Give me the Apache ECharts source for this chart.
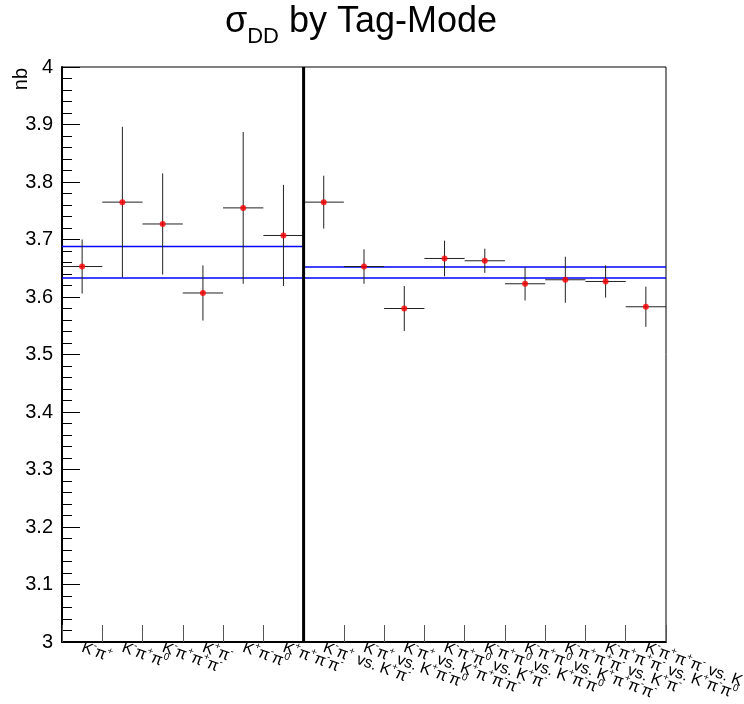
<!DOCTYPE html>
<html><head><meta charset="utf-8">
<script src="https://cdn.jsdelivr.net/npm/echarts@6/dist/echarts.min.js"></script>
<style>html,body{margin:0;padding:0;background:#fff}#c{width:744px;height:704px}</style>
</head><body><div id="c"></div>
<script>
// ---- data ----
const categories = [
  'K^{-}π^{+}', 'K^{-}π^{+}π^{0}', 'K^{-}π^{+}π^{+}π^{-}', 'K^{+}π^{-}', 'K^{+}π^{-}π^{0}', 'K^{+}π^{+}π^{-}π^{-}',
  'K^{-}π^{+} vs. K^{+}π^{-}', 'K^{-}π^{+} vs. K^{+}π^{-}π^{0}', 'K^{-}π^{+} vs. K^{+}π^{+}π^{-}π^{-}',
  'K^{-}π^{+}π^{0} vs. K^{+}π^{-}', 'K^{-}π^{+}π^{0} vs. K^{+}π^{-}π^{0}', 'K^{-}π^{+}π^{0} vs. K^{+}π^{+}π^{-}π^{-}',
  'K^{-}π^{+}π^{+}π^{-} vs. K^{+}π^{-}', 'K^{-}π^{+}π^{+}π^{-} vs. K^{+}π^{-}π^{0}', 'K^{-}π^{+}π^{+}π^{-} vs. K^{+}π^{+}π^{-}π^{-}'
];
const sigmaValues = [3.653, 3.765, 3.727, 3.607, 3.755, 3.707, 3.765, 3.653, 3.580, 3.667, 3.663, 3.623, 3.630, 3.627, 3.583];
const sigmaErrors = [0.047, 0.131, 0.088, 0.048, 0.132, 0.088, 0.046, 0.030, 0.039, 0.031, 0.021, 0.029, 0.040, 0.028, 0.035];
// fit bands: [first bin, last bin, value]
const fitLines = [[0, 5, 3.688], [0, 5, 3.633], [6, 14, 3.652], [6, 14, 3.633]];
const dividerBin = 6;   // boundary before this bin
const yTicks = { min: 3, max: 4, step: 0.1 };

// ---- helpers ----
function toRich(s) {
  let out = '';
  const re = /\^\{([^}]*)\}/g;
  let last = 0, m;
  while ((m = re.exec(s)) !== null) {
    if (m.index > last) out += '{n|' + s.slice(last, m.index) + '}';
    out += '{sup|' + m[1] + '}';
    last = re.lastIndex;
  }
  if (last < s.length) out += '{n|' + s.slice(last) + '}';
  return out;
}

const errData = sigmaValues.map((v, i) => [i, v, sigmaErrors[i]]);
const ptData = sigmaValues.map((v, i) => [i, v]);
const FONT = '"Liberation Sans", Arial, Helvetica, sans-serif';

const chart = echarts.init(document.getElementById('c'), null, { renderer: 'canvas' });
chart.setOption({
  animation: false,
  backgroundColor: '#fff',
  title: {
    text: '{s|σ}{sub|DD}{t| by Tag-Mode}',
    left: 220, top: -9,
    textStyle: {
      fontWeight: 'normal',
      rich: {
        s: { fontSize: 36, fontFamily: FONT, color: '#000', fontWeight: 'normal' },
        t: { fontSize: 36, fontFamily: FONT, color: '#000', fontWeight: 'normal' },
        sub: { fontSize: 22, fontFamily: FONT, color: '#000', fontWeight: 'normal', padding: [30, 0, 0, 0] }
      }
    }
  },
  graphic: [{
    type: 'text', left: 11, top: 68, rotation: Math.PI / 2,
    style: { text: 'nb', font: '20px ' + FONT, fill: '#000' }
  }],
  grid: { left: 62, right: 78, top: 67, bottom: 62, show: true, borderColor: '#000', borderWidth: 1, containLabel: false, outerBoundsMode: 'none' },
  xAxis: {
    type: 'category', data: categories, boundaryGap: true,
    axisLine: { show: true, lineStyle: { color: '#000', width: 2 } },
    axisTick: { show: true, inside: true, length: 17, lineStyle: { color: '#555', width: 1 } },
    splitLine: { show: false },
    axisLabel: {
      interval: 0, rotate: -20, margin: 5, hideOverlap: false,
      formatter: (v) => toRich(v),
      rich: {
        n: { fontSize: 16, fontFamily: FONT, color: '#000' },
        sup: { fontSize: 10, fontFamily: FONT, color: '#000', padding: [0, 0, 11, 0] }
      }
    }
  },
  yAxis: {
    type: 'value', min: yTicks.min, max: yTicks.max, interval: yTicks.step,
    axisLine: { show: true, lineStyle: { color: '#000', width: 2 } },
    axisTick: { show: true, inside: true, length: 18, lineStyle: { color: '#000', width: 1 } },
    minorTick: { show: true, splitNumber: 5, length: 10, lineStyle: { color: '#000', width: 1 } },
    splitLine: { show: false },
    minorSplitLine: { show: false },
    axisLabel: {
      margin: 9, fontSize: 20, fontFamily: FONT, color: '#000',
      formatter: (v) => (Math.abs(v - Math.round(v)) < 1e-9 ? String(Math.round(v)) : v.toFixed(1))
    }
  },
  series: [
    {
      type: 'custom', name: 'errors', data: errData, encode: { x: 0, y: 1 }, z: 3,
      renderItem: (params, api) => {
        const i = api.value(0), v = api.value(1), e = api.value(2);
        const c = api.coord([i, v]);
        const w = api.size([1, 0])[0];
        const t = api.coord([i, v + e]), b = api.coord([i, v - e]);
        return { type: 'group', children: [
          { type: 'line', shape: { x1: c[0] - w / 2, y1: c[1], x2: c[0] + w / 2, y2: c[1] }, style: { stroke: '#222', lineWidth: 1 } },
          { type: 'line', shape: { x1: c[0], y1: t[1], x2: c[0], y2: b[1] }, style: { stroke: '#222', lineWidth: 1 } }
        ] };
      }
    },
    {
      type: 'custom', name: 'fits', data: fitLines, encode: { x: 0, y: 2 }, z: 2,
      renderItem: (params, api) => {
        const a = api.value(0), b = api.value(1), v = api.value(2);
        const w = api.size([1, 0])[0];
        const p1 = api.coord([a, v]), p2 = api.coord([b, v]);
        return { type: 'line', shape: { x1: p1[0] - w / 2, y1: p1[1], x2: p2[0] + w / 2, y2: p2[1] }, style: { stroke: '#0000ff', lineWidth: 1.5 } };
      }
    },
    {
      type: 'custom', name: 'divider', data: [[dividerBin, yTicks.min, yTicks.max]], encode: { x: 0, y: [1, 2] }, z: 4,
      renderItem: (params, api) => {
        const w = api.size([1, 0])[0];
        const p1 = api.coord([api.value(0), api.value(1)]), p2 = api.coord([api.value(0), api.value(2)]);
        return { type: 'line', shape: { x1: p1[0] - w / 2, y1: p1[1], x2: p2[0] - w / 2, y2: p2[1] }, style: { stroke: '#000', lineWidth: 3 } };
      }
    },
    {
      type: 'scatter', name: 'points', data: ptData, symbol: 'circle', symbolSize: 6, z: 5,
      itemStyle: { color: '#ff0000' }
    }
  ]
});
</script></body></html>
